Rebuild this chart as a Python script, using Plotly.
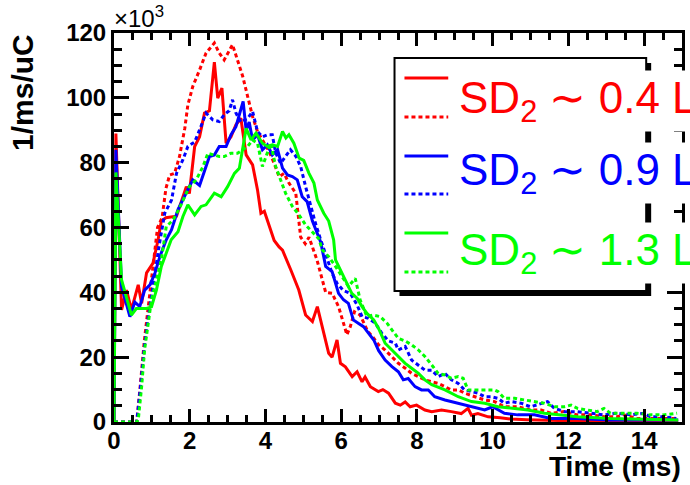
import plotly.graph_objects as go

# ---- data: rate per unit charge (x10^3 / ms / uC) versus time (ms) ----
# solid curves
t_red_solid = [0.0, 0.05, 0.2, 0.33, 0.46, 0.64, 0.73, 0.86, 1.03, 1.16, 1.25, 1.37, 1.65, 1.82, 1.91, 1.99,
               2.13, 2.26, 2.39, 2.52, 2.65, 2.74, 2.85, 2.96, 3.09, 3.22, 3.35, 3.49, 3.66, 3.79, 3.88, 3.97,
               4.10, 4.23, 4.36, 4.45, 4.67, 4.88, 5.06, 5.24, 5.37, 5.50, 5.67, 5.76, 5.89, 5.98, 6.11, 6.29,
               6.42, 6.55, 6.63, 6.77, 6.98, 7.10, 7.25, 7.43, 7.56, 7.69, 7.82, 7.99, 8.21, 8.39, 8.65, 8.91,
               9.17, 9.35, 9.44, 9.61, 9.88, 10.2, 10.49, 10.9, 11.36, 11.8, 12.3, 12.8, 13.3, 13.8, 14.3, 14.9]
v_red_solid = [0.0, 89.0, 34.6, 40.7, 34.6, 42.3, 36.6, 46.0, 49.0, 56.0, 62.0, 63.0, 63.5, 69.5, 72.6, 70.5,
               85.0, 88.0, 95.3, 96.0, 111.0, 99.9, 103.0, 86.0, 88.0, 91.7, 93.7, 82.4, 79.3, 71.6, 64.4, 65.0,
               60.3, 56.0, 54.0, 53.0, 46.9, 40.7, 33.0, 31.0, 35.6, 29.4, 21.2, 20.0, 25.3, 18.1, 17.0, 14.0,
               15.5, 12.4, 13.9, 10.9, 9.4, 10.0, 8.9, 5.8, 5.2, 6.2, 4.7, 5.2, 3.7, 3.2, 3.7, 3.2,
               2.6, 4.2, 2.1, 2.6, 1.6, 1.3, 0.9, 0.7, 0.5, 0.4, 0.3, 0.3, 0.2, 0.2, 0.1, 0.1]

t_blue_solid = [0.0, 0.05, 0.2, 0.42, 0.55, 0.68, 0.81, 0.95, 1.08, 1.21, 1.38, 1.52, 1.69, 1.91, 2.08, 2.26,
                2.39, 2.52, 2.65, 2.78, 2.96, 3.09, 3.22, 3.35, 3.41, 3.49, 3.57, 3.66, 3.79, 3.92, 4.05, 4.18,
                4.32, 4.45, 4.58, 4.71, 4.84, 4.97, 5.10, 5.24, 5.37, 5.46, 5.59, 5.76, 5.93, 6.06, 6.19, 6.32,
                6.46, 6.59, 6.72, 6.86, 6.99, 7.16, 7.34, 7.51, 7.64, 7.77, 7.95, 8.12, 8.30, 8.47, 8.74, 9.09,
                9.44, 9.79, 10.0, 10.31, 10.66, 11.1, 11.54, 12.24, 13.1, 13.9, 14.9]
v_blue_solid = [0.0, 84.0, 41.8, 32.5, 37.0, 35.6, 40.7, 42.3, 45.9, 51.0, 56.2, 59.3, 65.5, 71.0, 74.7, 73.0,
                77.8, 81.9, 82.4, 85.0, 85.0, 88.6, 91.1, 96.3, 98.9, 90.0, 92.5, 87.0, 88.6, 84.0, 85.5, 82.4,
                84.0, 78.3, 76.2, 75.7, 74.7, 69.5, 68.0, 62.0, 58.5, 55.5, 48.0, 46.4, 39.7, 37.7, 36.6, 31.5,
                30.4, 29.4, 27.4, 25.3, 22.0, 19.1, 17.1, 15.5, 13.0, 13.4, 10.9, 9.9, 9.9, 7.8, 6.8, 5.8,
                4.7, 3.7, 4.7, 2.7, 2.2, 2.2, 1.1, 1.1, 0.6, 0.6, 0.6]

t_green_solid = [0.0, 0.05, 0.2, 0.46, 0.59, 0.86, 0.99, 1.12, 1.25, 1.38, 1.51, 1.69, 1.82, 1.95, 2.13, 2.30,
                 2.43, 2.65, 2.83, 3.00, 3.18, 3.31, 3.40, 3.49, 3.62, 3.75, 3.92, 4.05, 4.18, 4.32, 4.45, 4.54,
                 4.62, 4.75, 4.89, 5.01, 5.15, 5.28, 5.37, 5.54, 5.67, 5.80, 5.85, 6.02, 6.15, 6.28, 6.42, 6.55,
                 6.68, 6.86, 6.99, 7.16, 7.34, 7.51, 7.69, 7.86, 8.04, 8.21, 8.39, 8.74, 9.09, 9.44, 9.79, 10.14,
                 10.49, 10.93, 11.37, 12.24, 13.1, 13.99, 14.9]
v_green_solid = [0.0, 77.0, 43.8, 33.0, 35.0, 35.0, 35.5, 40.7, 48.0, 52.0, 56.2, 58.7, 63.4, 67.0, 63.9, 66.5,
                 67.0, 70.6, 69.5, 72.6, 76.7, 78.3, 84.0, 90.6, 87.0, 89.1, 86.0, 85.0, 85.5, 85.0, 89.6, 87.6,
                 88.6, 86.0, 81.4, 80.7, 76.7, 73.7, 68.5, 64.4, 62.0, 56.2, 50.0, 45.9, 42.8, 39.7, 38.2, 35.6,
                 33.5, 31.5, 28.8, 24.3, 22.2, 20.2, 18.1, 16.6, 15.0, 13.0, 11.5, 9.9, 7.8, 6.3, 5.8, 4.7,
                 4.2, 3.7, 2.7, 1.6, 1.1, 0.8, 0.6]

# dotted curves
t_red_dot = [0.0, 0.6, 0.7, 0.8, 0.9, 1.0, 1.1, 1.15, 1.27, 1.37, 1.47, 1.60, 1.73, 1.87, 1.95, 2.08,
             2.26, 2.43, 2.65, 2.78, 2.91, 3.00, 3.13, 3.26, 3.40, 3.53, 3.66, 3.79, 3.92, 4.10, 4.23, 4.36,
             4.49, 4.62, 4.80, 4.93, 5.05, 5.15, 5.36, 5.59, 5.76, 5.93, 6.06, 6.15, 6.24, 6.35, 6.50, 6.70,
             6.85, 6.99, 7.16, 7.34, 7.51, 7.69, 7.86, 8.04, 8.21, 8.39, 8.56, 8.74, 8.91, 9.09, 9.26, 9.53,
             9.79, 10.05, 10.31, 10.66, 11.01, 11.28, 11.54, 11.89, 12.24, 12.59, 12.94, 13.29, 13.46, 13.81,
             14.3, 14.85]
v_red_dot = [0.0, 0.0, 12.0, 25.0, 35.0, 45.0, 55.0, 60.0, 63.0, 72.0, 76.2, 76.7, 81.9, 90.6, 97.8, 103.5,
             108.6, 113.8, 116.9, 113.8, 111.7, 113.5, 116.4, 111.7, 106.6, 100.4, 94.2, 89.6, 87.0, 83.4, 79.8, 75.7,
             76.7, 73.7, 70.6, 57.0, 55.0, 57.0, 50.0, 40.0, 39.7, 35.6, 30.5, 26.9, 29.4, 34.0, 33.0, 28.0,
             26.0, 23.8, 22.2, 20.0, 18.1, 16.6, 15.0, 14.0, 13.0, 12.4, 11.9, 10.9, 9.9, 9.9, 8.9, 7.8,
             6.8, 6.3, 4.7, 4.7, 3.7, 3.7, 2.7, 3.2, 2.2, 2.2, 1.6, 1.6, 2.2, 1.1,
             1.1, 1.1]

t_blue_dot = [0.0, 0.6, 0.7, 0.8, 0.9, 1.0, 1.1, 1.2, 1.34, 1.52, 1.65, 1.82, 1.95, 2.13, 2.26, 2.43,
              2.61, 2.78, 2.91, 3.04, 3.13, 3.22, 3.35, 3.53, 3.66, 3.79, 3.92, 4.05, 4.18, 4.27, 4.40, 4.53,
              4.66, 4.80, 4.93, 5.06, 5.19, 5.32, 5.45, 5.59, 5.76, 5.89, 6.06, 6.24, 6.42, 6.55, 6.72, 6.90,
              7.07, 7.25, 7.43, 7.51, 7.69, 7.86, 8.04, 8.21, 8.39, 8.56, 8.74, 8.91, 9.09, 9.26, 9.44, 9.61,
              9.79, 9.96, 10.14, 10.31, 10.49, 10.75, 11.0, 11.28, 11.45, 11.63, 11.9, 12.24, 12.59, 12.94,
              13.29, 13.64, 13.99, 14.16, 14.5, 14.85]
v_blue_dot = [0.0, 0.0, 11.0, 23.0, 32.0, 40.0, 47.0, 55.0, 64.4, 68.5, 76.7, 80.9, 85.0, 86.4, 90.1, 95.3,
              93.2, 92.7, 94.8, 96.0, 99.4, 95.3, 92.5, 93.7, 95.8, 89.6, 88.0, 88.6, 88.6, 83.0, 79.8, 81.9,
              84.0, 82.0, 78.8, 72.6, 66.5, 61.3, 56.5, 52.0, 45.9, 42.8, 40.5, 39.7, 36.1, 32.5, 32.0, 30.5,
              27.4, 25.0, 24.3, 22.2, 23.3, 19.1, 17.6, 16.0, 16.0, 14.0, 15.0, 13.0, 11.9, 9.9, 9.4, 8.9,
              7.8, 7.8, 7.3, 5.8, 6.3, 5.8, 4.7, 5.8, 6.3, 4.2, 3.2, 3.2, 2.7, 2.2,
              2.7, 2.2, 2.7, 1.6, 1.6, 1.1]

t_green_dot = [0.0, 0.6, 0.64, 0.73, 0.81, 0.90, 0.99, 1.12, 1.25, 1.38, 1.56, 1.73, 1.99, 2.17, 2.35, 2.48,
               2.65, 2.78, 2.91, 3.09, 3.26, 3.40, 3.53, 3.66, 3.79, 3.92, 4.01, 4.14, 4.27, 4.40, 4.53, 4.71,
               4.88, 5.06, 5.24, 5.41, 5.50, 5.67, 5.85, 6.02, 6.19, 6.37, 6.50, 6.68, 6.85, 7.03, 7.21, 7.34,
               7.51, 7.69, 7.86, 8.04, 8.21, 8.39, 8.56, 8.74, 8.91, 9.09, 9.22, 9.35, 9.53, 9.79, 10.05, 10.14,
               10.31, 10.58, 10.84, 11.1, 11.36, 11.63, 11.89, 12.07, 12.24, 12.5, 12.76, 12.94, 13.11, 13.46,
               13.81, 14.16, 14.5, 14.87]
v_green_dot = [0.0, 0.0, 0.6, 10.9, 22.5, 30.5, 37.7, 43.8, 50.0, 60.3, 62.3, 66.0, 72.6, 74.7, 78.8, 82.9,
               82.4, 81.9, 81.9, 82.9, 82.9, 84.0, 85.0, 87.0, 86.0, 78.8, 81.9, 86.0, 78.8, 74.7, 70.6, 66.5,
               64.0, 60.8, 58.7, 56.5, 53.1, 51.0, 48.0, 45.0, 41.8, 44.3, 37.7, 32.5, 33.0, 32.5, 30.5, 28.4,
               25.8, 25.0, 23.8, 22.2, 20.2, 17.6, 15.0, 14.5, 13.5, 14.0, 13.5, 9.9, 9.9, 9.9, 9.9, 9.4,
               7.3, 7.3, 6.8, 6.3, 5.8, 4.7, 4.7, 5.2, 4.2, 3.7, 3.2, 4.2, 2.7, 2.7,
               2.7, 2.2, 2.2, 2.7]

legend_labels = ["SD<sub>2</sub> \u223c 0.4 L", "SD<sub>2</sub> \u223c 0.9 L", "SD<sub>2</sub> \u223c 1.3 L"]
x_ticks = [0, 2, 4, 6, 8, 10, 12, 14]
y_ticks = [0, 20, 40, 60, 80, 100, 120]

RED, BLUE, GREEN = "#ff0000", "#0000ff", "#00ff00"
DOT = "4px,3px"

series = [
    (t_red_solid, v_red_solid, RED, "solid"),
    (t_red_dot, v_red_dot, RED, DOT),
    (t_blue_solid, v_blue_solid, BLUE, "solid"),
    (t_blue_dot, v_blue_dot, BLUE, DOT),
    (t_green_solid, v_green_solid, GREEN, "solid"),
    (t_green_dot, v_green_dot, GREEN, DOT),
]

fig = go.Figure()
for t, v, col, dash in series:
    assert len(t) == len(v)
    fig.add_trace(go.Scatter(x=t, y=v, mode="lines",
                             line=dict(color=col, width=3, dash=dash),
                             hoverinfo="skip"))

W, H = 690, 485
L, R, T, B = 114, 5, 33, 63
PW, PH = W - L - R, H - T - B


def px(x):
    return (x - L) / PW


def py(y):
    return (H - B - y) / PH


axis_font = dict(family="Liberation Sans", size=24, color="black", weight="bold")
common = dict(showline=True, linewidth=3, linecolor="black", mirror="allticks",
              ticks="inside", tickcolor="black", tickwidth=2.5,
              showgrid=False, zeroline=False, tickfont=axis_font)

fig.update_xaxes(range=[0, 15], tickvals=x_ticks, ticklen=13, ticklabelstandoff=-5,
                 minor=dict(dtick=0.5, tick0=0, ticklen=7, tickwidth=2.5,
                            ticks="inside", tickcolor="black"),
                 **common)
fig.update_yaxes(range=[0, 120], tickvals=y_ticks, ticklen=15,
                 minor=dict(dtick=5, tick0=0, ticklen=8, tickwidth=2.5,
                            ticks="inside", tickcolor="black"),
                 **common)

shapes = []
# legend box with drop shadow
shapes.append(dict(type="rect", xref="paper", yref="paper",
                   x0=px(401), x1=px(654), y0=py(63), y1=py(296),
                   fillcolor="black", line=dict(width=0), layer="above"))
shapes.append(dict(type="rect", xref="paper", yref="paper",
                   x0=px(396), x1=px(649), y0=py(58), y1=py(291),
                   fillcolor="white", line=dict(color="black", width=2), layer="above"))
legend_rows = [(RED, 78, 117, 101), (BLUE, 156, 194, 173), (GREEN, 233, 272, 253)]
for col, ys, yd, _ in legend_rows:
    shapes.append(dict(type="line", xref="paper", yref="paper",
                       x0=px(406), x1=px(450), y0=py(ys), y1=py(ys),
                       line=dict(color=col, width=3), layer="above"))
    shapes.append(dict(type="line", xref="paper", yref="paper",
                       x0=px(406), x1=px(450), y0=py(yd), y1=py(yd),
                       line=dict(color=col, width=3, dash=DOT), layer="above"))

annotations = []
for (col, _, _, yc), label in zip(legend_rows, legend_labels):
    annotations.append(dict(text=label, xref="paper", yref="paper",
                            x=px(458), y=py(yc), xanchor="left", yanchor="middle",
                            showarrow=False, bgcolor="white", borderpad=2,
                            font=dict(family="Liberation Sans", size=44, color=col)))

annotations.append(dict(text="\u00d710<sup>3</sup>", xref="paper", yref="paper",
                        x=px(112), y=py(34), xanchor="left", yanchor="bottom",
                        showarrow=False,
                        font=dict(family="Liberation Sans", size=24, color="black")))
annotations.append(dict(text="1/ms/uC", xref="paper", yref="paper",
                        x=px(22), y=py(32), xanchor="center", yanchor="top",
                        textangle=-90, showarrow=False,
                        font=dict(family="Liberation Sans", size=30, color="black", weight="bold")))
annotations.append(dict(text="Time (ms)", xref="paper", yref="paper",
                        x=px(686), y=py(466), xanchor="right", yanchor="middle",
                        showarrow=False,
                        font=dict(family="Liberation Sans", size=28, color="black", weight="bold")))

fig.update_layout(width=W, height=H, margin=dict(l=L, r=R, t=T, b=B),
                  plot_bgcolor="white", paper_bgcolor="white", showlegend=False,
                  shapes=shapes, annotations=annotations)

fig.write_html("out.html")
